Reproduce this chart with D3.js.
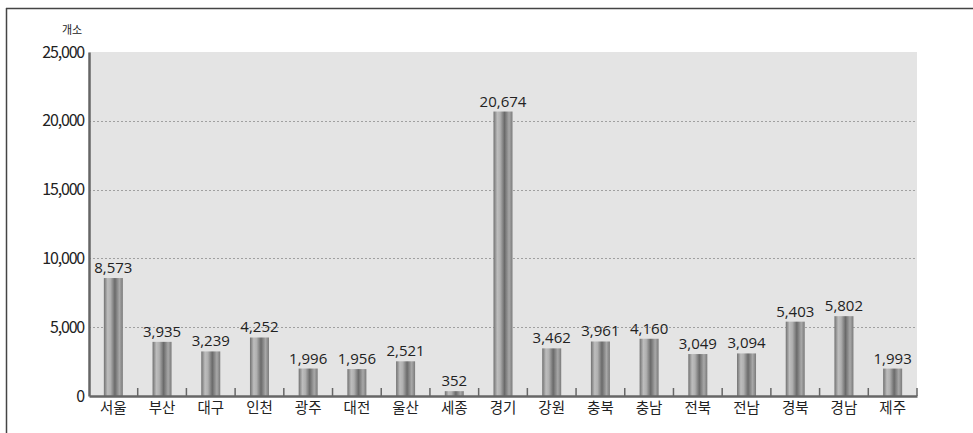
<!DOCTYPE html>
<html><head><meta charset="utf-8">
<script src="https://cdn.jsdelivr.net/npm/d3@7"></script>
<style>body{margin:0;background:#fff}svg{display:block}</style>
</head><body>
<svg id="c" width="973" height="433"></svg>
<script>
const categories = ["서울","부산","대구","인천","광주","대전","울산","세종","경기","강원","충북","충남","전북","전남","경북","경남","제주"];
const values = [8573,3935,3239,4252,1996,1956,2521,352,20674,3462,3961,4160,3049,3094,5403,5802,1993];
const yTicks = [0,5000,10000,15000,20000,25000];
const unitLabel = "개소";

const svg = d3.select("#c");
const font = "'Noto Sans CJK KR', 'Noto Sans', sans-serif";
const L = 89, R = 917, T = 52, B = 396;

// frame
svg.append("line").attr("x1",6).attr("x2",973).attr("y1",8.5).attr("y2",8.5).attr("stroke","#444").attr("stroke-width",1.5);
svg.append("line").attr("x1",6.5).attr("x2",6.5).attr("y1",8).attr("y2",433).attr("stroke","#444").attr("stroke-width",1.5);

const x = d3.scaleBand().domain(categories).range([L,R]).paddingInner(0).paddingOuter(0);
const y = d3.scaleLinear().domain([0,25000]).range([B,T]);

// gradient
const defs = svg.append("defs");
const g = defs.append("linearGradient").attr("id","bar").attr("x1","0").attr("x2","1").attr("y1","0").attr("y2","0");
[[0,"#707070"],[0.2,"#bdbdbd"],[0.35,"#b0b0b0"],[0.58,"#6a6a6a"],[0.82,"#a8a8a8"],[1,"#7a7a7a"]].forEach(([o,c])=>g.append("stop").attr("offset",o).attr("stop-color",c));

svg.append("rect").attr("x",L).attr("y",T).attr("width",R-L).attr("height",B-T).attr("fill","#e4e4e4");

// grid
svg.append("g").selectAll("line").data(yTicks.filter(t=>t>0 && t<25000)).join("line")
  .attr("x1",L).attr("x2",R).attr("y1",d=>Math.round(y(d))+0.5).attr("y2",d=>Math.round(y(d))+0.5)
  .attr("stroke","#a0a0a0").attr("stroke-dasharray","2,2").attr("stroke-width",1);

// bars
const bw = 19;
svg.append("g").selectAll("rect").data(values).join("rect")
  .attr("x",(d,i)=>x(categories[i])+x.bandwidth()/2-bw/2)
  .attr("y",d=>y(d)).attr("width",bw).attr("height",d=>B-y(d)).attr("fill","url(#bar)");

// value labels
svg.append("g").selectAll("text").data(values).join("text")
  .attr("x",(d,i)=>x(categories[i])+x.bandwidth()/2).attr("y",d=>y(d)-5)
  .attr("text-anchor","middle").attr("font-family","'Open Sans', 'Noto Sans', sans-serif").attr("font-size",15).attr("fill","#222")
  .text(d=>d3.format(",")(d));

// y axis
const ya = svg.append("g").attr("transform",`translate(${L},0)`).call(d3.axisLeft(y).tickValues(yTicks).tickSize(0).tickPadding(5).tickFormat(d3.format(",")));
ya.select(".domain").attr("stroke","#666").attr("stroke-width",2.5);
ya.selectAll("text").attr("font-family",font).attr("font-size",16).attr("fill","#222").attr("letter-spacing","-1.2");

// x axis
const xa = svg.append("g").attr("transform",`translate(0,${B})`).call(d3.axisBottom(x).tickSize(0).tickPadding(7));
xa.select(".domain").attr("stroke","#666").attr("stroke-width",2.5);
xa.selectAll("text").attr("font-family",font).attr("font-size",14.5).attr("fill","#222");
// separator ticks
svg.append("g").selectAll("line").data(categories.slice(1).concat(["__end"])).join("line")
  .attr("x1",d=>d==="__end"?R:x(d)).attr("x2",d=>d==="__end"?R:x(d))
  .attr("y1",B).attr("y2",B-8).attr("stroke","#666").attr("stroke-width",1.5);

svg.append("text").attr("x",72).attr("y",34).attr("text-anchor","middle").attr("font-family",font).attr("font-size",11).attr("fill","#222").text(unitLabel);
</script>
</body></html>
